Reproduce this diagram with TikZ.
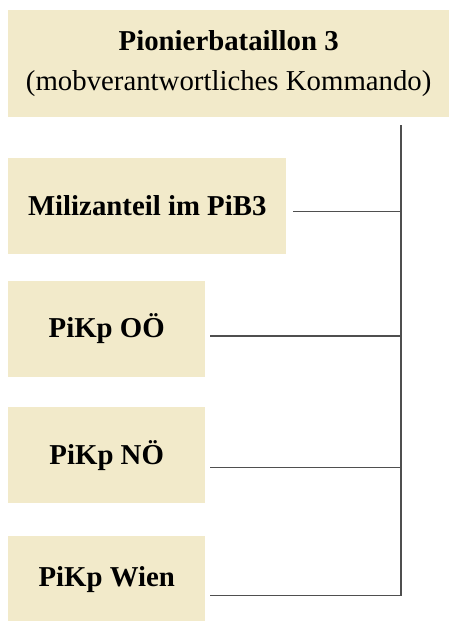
\documentclass[tikz,border=0pt]{standalone}
\usepackage{fontspec}
\setmainfont{Liberation Serif}
\usetikzlibrary{positioning}
\definecolor{unitfill}{HTML}{F2EACA}
\definecolor{linkgray}{HTML}{4F4F4F}

\begin{document}
\begin{tikzpicture}[x=1pt,y=1pt,node distance=30pt,
    unit/.style={fill=unitfill,inner sep=0pt,align=center,minimum width=197pt,minimum height=96pt,font=\fontsize{28.8}{40}\selectfont\bfseries},
    link/.style={draw=linkgray,line width=1.3pt}]
  \useasboundingbox (0,0) rectangle (449,-621);
  \node[unit,anchor=north west,minimum width=441pt,minimum height=107pt,font=\fontsize{28.8}{40}\selectfont] (pib) at (8,-10) {\textbf{Pionierbataillon 3}\\(mobverantwortliches Kommando)};
  \node[unit,below=40pt of pib.south west,anchor=north west,minimum width=278pt] (miliz) {Milizanteil im PiB3};
  \node[unit,below=27pt of miliz.south west,anchor=north west] (ooe) {PiKp OÖ};
  \node[unit,below=30pt of ooe.south west,anchor=north west] (noe) {PiKp NÖ};
  \node[unit,below=32pt of noe.south west,anchor=north west,minimum height=87pt] (wien) {PiKp Wien};
  % Verbindungslinien
  \coordinate (trunk) at (401,-125);
  \draw[link] ([xshift=5pt,yshift=-16.5pt]wien.east) -| (trunk);
  \draw[link] ([xshift=7pt,yshift=-6pt]miliz.east) coordinate (m) -- (m -| trunk);
  \draw[link] ([xshift=5pt,yshift=-7pt]ooe.east) coordinate (o) -- (o -| trunk);
  \draw[link] ([xshift=5pt,yshift=-12pt]noe.east) coordinate (n) -- (n -| trunk);
\end{tikzpicture}
\end{document}
